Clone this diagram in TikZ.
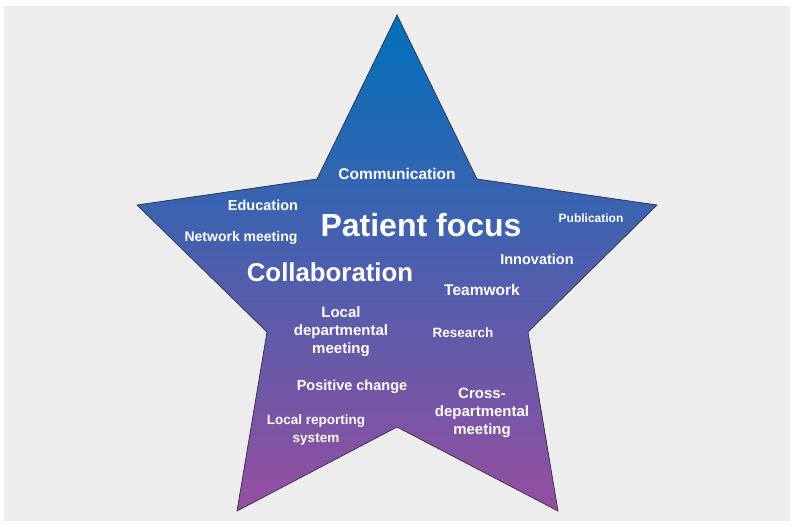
\documentclass[tikz,border=0pt]{standalone}
\usepackage{fontspec}
\setmainfont{Liberation Sans}
\definecolor{bggray}{HTML}{EDEDED}
\definecolor{topblue}{RGB}{0,112,186}
\definecolor{botpurple}{RGB}{150,78,160}
\definecolor{edgecol}{HTML}{303040}
\begin{document}
\begin{tikzpicture}[x=1pt,y=-1pt,
  lbl/.style={text=white,inner sep=0pt,align=center,font=\bfseries\fontsize{#1}{18}\selectfont}]
\useasboundingbox (0,0) rectangle (795,527);
\fill[bggray] (4,6) rectangle (790,521);
% star vertices
\coordinate (t)   at (397,15);
\coordinate (uri) at (477,179);
\coordinate (r)   at (657,205);
\coordinate (lri) at (528,332);
\coordinate (br)  at (558,511);
\coordinate (bi)  at (397,427);
\coordinate (bl)  at (237,511);
\coordinate (lli) at (267,332);
\coordinate (l)   at (137,205);
\coordinate (uli) at (317,179);
\shade[top color=topblue,bottom color=botpurple]
  (t) -- (uri) -- (r) -- (lri) -- (br) -- (bi) -- (bl) -- (lli) -- (l) -- (uli) -- cycle;
\draw[edgecol,line width=0.7pt,line join=miter]
  (t) -- (uri) -- (r) -- (lri) -- (br) -- (bi) -- (bl) -- (lli) -- (l) -- (uli) -- cycle;
% labels
\node[lbl=15.5] (comm) at (397,174) {Communication};
\node[lbl=14.5] (edu) at (263,205) {Education};
\node[lbl=32] (pf) at (421,225) {Patient focus};
\node[lbl=12] (pub) at (591,218) {Publication};
\node[lbl=14] (net) at (241,238) {Network meeting};
\node[lbl=14.5] (inno) at (537,259) {Innovation};
\node[lbl=25.8] (collab) at (330,272) {Collaboration};
\node[lbl=15.5] (team) at (482,290) {Teamwork};
\node[lbl=15] (ldm) at (341,331.5) {Local\\departmental\\meeting};
\node[lbl=13.5] (res) at (463,333) {Research};
\node[lbl=14.5] (pos) at (352,387) {Positive change};
\node[lbl=15] (cdm) at (482,412.5) {Cross-\\departmental\\meeting};
\node[lbl=13.5] (lrs) at (316,430.5) {Local reporting\\system};
\end{tikzpicture}
\end{document}
